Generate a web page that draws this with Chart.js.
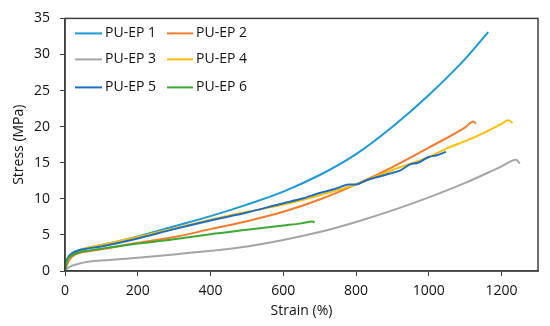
<!DOCTYPE html>
<html>
<head>
<meta charset="utf-8">
<script src="https://cdn.jsdelivr.net/npm/chart.js@4.4.0/dist/chart.umd.min.js"></script>
<style>
  html, body { margin: 0; padding: 0; background: #fff; }
</style>
</head>
<body>
<canvas id="stressChart" width="550" height="326"></canvas>
<script>
// ---- данные ----
const seriesNames = ['PU-EP 1', 'PU-EP 2', 'PU-EP 3', 'PU-EP 4', 'PU-EP 5', 'PU-EP 6'];

const strain1 = [0, 5, 10, 20, 40, 60, 100, 200, 300, 400, 500, 600, 700, 800, 900, 1000, 1100, 1163];
const stress1 = [0, 1.3, 1.9, 2.4, 2.9, 3.2, 3.6, 4.8, 6.2, 7.6, 9.2, 11.0, 13.3, 16.2, 20.0, 24.4, 29.4, 33.1];

const strain2 = [0, 5, 10, 20, 40, 60, 100, 200, 300, 400, 500, 600, 700, 800, 900, 1000, 1100, 1122, 1130];
const stress2 = [0, 0.8, 1.4, 2.0, 2.5, 2.7, 3.0, 3.9, 4.7, 5.8, 6.9, 8.2, 9.9, 12.0, 14.4, 17.1, 19.9, 20.7, 20.4];

const strain3 = [0, 5, 10, 20, 40, 60, 100, 200, 300, 400, 500, 600, 700, 800, 900, 1000, 1100, 1200, 1240, 1250];
const stress3 = [0, 0.3, 0.5, 0.75, 1.05, 1.25, 1.45, 1.85, 2.3, 2.8, 3.4, 4.3, 5.4, 6.8, 8.4, 10.2, 12.2, 14.5, 15.4, 14.9];

const strain4 = [0, 5, 10, 20, 40, 60, 100, 200, 300, 400, 500, 600, 700, 800, 900, 1000, 1050, 1100, 1150, 1200, 1218, 1230];
const stress4 = [0, 1.2, 1.8, 2.4, 2.9, 3.2, 3.6, 4.7, 5.9, 7.1, 8.2, 9.2, 10.5, 12.0, 14.0, 15.8, 17.0, 18.0, 19.1, 20.4, 20.9, 20.5];

const strain5 = [0, 5, 10, 20, 40, 60, 100, 200, 300, 400, 500, 600, 650, 700, 750, 780, 800, 830, 850, 880, 900, 920, 950, 970, 1000, 1020, 1047];
const stress5 = [0, 1.5, 2.0, 2.5, 2.9, 3.1, 3.4, 4.5, 5.8, 7.0, 8.1, 9.4, 10.0, 10.8, 11.5, 12.0, 12.0, 12.6, 12.9, 13.3, 13.6, 13.9, 14.8, 15.0, 15.8, 16.0, 16.5];

const strain6 = [0, 5, 10, 20, 40, 60, 100, 200, 300, 400, 500, 600, 650, 680, 686];
const stress6 = [0, 1.2, 1.8, 2.2, 2.6, 2.8, 3.1, 3.8, 4.4, 5.1, 5.7, 6.3, 6.6, 6.85, 6.75];

const seriesColors = ['#1B9AD6', '#F47A2C', '#A5A5A5', '#FFC000', '#1F6CC0', '#3DA935'];

const allStrain = [strain1, strain2, strain3, strain4, strain5, strain6];
const allStress = [stress1, stress2, stress3, stress4, stress5, stress6];

const FONT = '"Open Sans", "Liberation Sans", sans-serif';
const AXIS_COLOR = '#404040';
const TEXT_COLOR = '#111';

// собираем наборы данных для Chart.js
const datasets = seriesNames.map((name, i) => ({
  label: name,
  data: allStrain[i].map((x, k) => ({ x: x, y: allStress[i][k] })),
  borderColor: seriesColors[i],
  backgroundColor: seriesColors[i],
  borderWidth: 2,
  pointRadius: 0,
  cubicInterpolationMode: 'monotone',
  fill: false,
  order: seriesNames.length - i   // как в Excel: последняя серия сверху
}));

// рамка вокруг области построения
const frameBox = {
  id: 'frameBox',
  afterDraw(chart) {
    const { ctx, chartArea } = chart;
    ctx.save();
    ctx.strokeStyle = AXIS_COLOR;
    ctx.lineWidth = 1.5;
    ctx.strokeRect(chartArea.left, chartArea.top, chartArea.right - chartArea.left, chartArea.bottom - chartArea.top);
    ctx.restore();
  }
};

// легенда внутри графика, 2 колонки x 3 строки
const insideLegend = {
  id: 'insideLegend',
  afterDraw(chart) {
    const { ctx, chartArea } = chart;
    const cols = [
      { lineX: 10, lineLen: 27, textX: 40 },
      { lineX: 102, lineLen: 26, textX: 131 }
    ];
    const rows = [15, 41, 69];
    ctx.save();
    ctx.font = '14px ' + FONT;
    ctx.textBaseline = 'middle';
    ctx.fillStyle = TEXT_COLOR;
    seriesNames.forEach((name, i) => {
      const c = cols[i % 2];
      const y = chartArea.top + rows[Math.floor(i / 2)];
      const x0 = chartArea.left + c.lineX;
      ctx.strokeStyle = seriesColors[i];
      ctx.lineWidth = 2;
      ctx.beginPath();
      ctx.moveTo(x0, y);
      ctx.lineTo(x0 + c.lineLen, y);
      ctx.stroke();
      ctx.fillText(name, chartArea.left + c.textX, y);
    });
    ctx.restore();
  }
};

const ctx = document.getElementById('stressChart').getContext('2d');

new Chart(ctx, {
  type: 'line',
  data: { datasets: datasets },
  options: {
    responsive: false,
    animation: false,
    layout: { padding: { top: 17, right: 12, left: 0, bottom: 0 } },
    plugins: {
      legend: { display: false },
      tooltip: { enabled: false }
    },
    scales: {
      x: {
        type: 'linear',
        min: 0,
        max: 1300,
        afterFit: (scale) => { scale.height = 55; },
        ticks: {
          stepSize: 200,
          includeBounds: false,
          padding: 7,
          color: TEXT_COLOR,
          font: { family: FONT, size: 14 },
          maxRotation: 0,
          callback: (v) => String(v)
        },
        grid: { drawOnChartArea: false, drawTicks: true, tickLength: 5, color: AXIS_COLOR },
        border: { color: AXIS_COLOR, width: 1.5 },
        title: {
          display: true,
          text: 'Strain (%)',
          color: TEXT_COLOR,
          font: { family: FONT, size: 14 },
          padding: { top: 0, bottom: 7 }
        }
      },
      y: {
        type: 'linear',
        min: 0,
        max: 35,
        afterFit: (scale) => { scale.width = 65; },
        ticks: {
          stepSize: 5,
          padding: 10,
          color: TEXT_COLOR,
          font: { family: FONT, size: 14 },
          callback: (v) => String(v)
        },
        grid: { drawOnChartArea: false, drawTicks: true, tickLength: 5, color: AXIS_COLOR },
        border: { color: AXIS_COLOR, width: 1.5 },
        title: {
          display: true,
          text: 'Stress (MPa)',
          color: TEXT_COLOR,
          font: { family: FONT, size: 14 },
          padding: { top: 11, bottom: 0 }
        }
      }
    }
  },
  plugins: [frameBox, insideLegend]
});
</script>
</body>
</html>
